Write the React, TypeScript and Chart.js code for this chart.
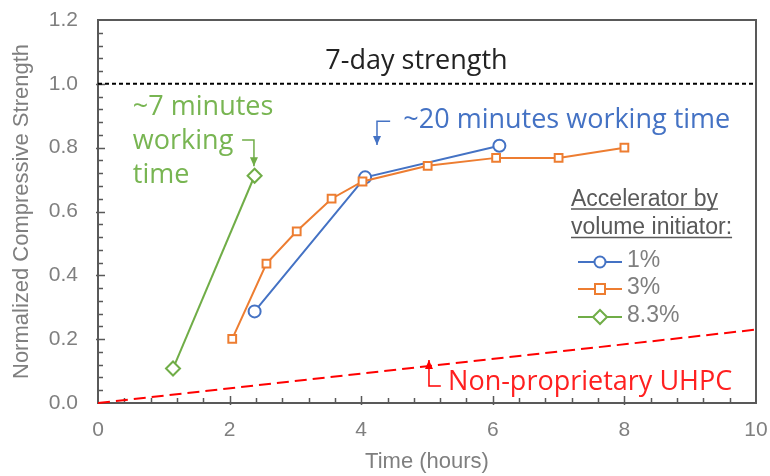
import React, { useEffect, useRef } from "react";
import { Chart, registerables } from "chart.js";

Chart.register(...registerables);

// ---- data ----
const seriesNames = ["1%", "3%", "8.3%"];
const time1 = [2.38, 4.06, 6.1];
const strength1 = [0.287, 0.707, 0.806];
const time3 = [2.04, 2.56, 3.02, 3.55, 4.02, 5.01, 6.05, 7.0, 8.0];
const strength3 = [0.201, 0.437, 0.538, 0.64, 0.694, 0.743, 0.768, 0.768, 0.8];
const time83 = [1.14, 2.38];
const strength83 = [0.108, 0.712];
const uhpcTime = [0, 10];
const uhpcStrength = [0, 0.23];
const sevenDayTime = [0, 10];
const sevenDayStrength = [1.0, 1.0];
const xTickValues = [0, 2, 4, 6, 8, 10];
const yTickValues = [0, 0.2, 0.4, 0.6, 0.8, 1.0, 1.2];
const xTitle = "Time (hours)";
const yTitle = "Normalized Compressive Strength";
const legendTitle = ["Accelerator by", "volume initiator:"];

const BLUE = "#4472C4";
const ORANGE = "#ED7D31";
const GREEN = "#70AD47";
const RED = "#FF0000";
const GRAY = "#7f7f7f";
const DARK = "#595959";

const pts = (xs: number[], ys: number[]) => xs.map((x, i) => ({ x, y: ys[i] }));

const framePlugin = {
  id: "frame",
  beforeDatasetsDraw(chart: any) {
    const ctx = chart.ctx;
    const xs = chart.scales.x;
    const ys = chart.scales.y;
    const ca = chart.chartArea;
    const px = (v: number) => xs.getPixelForValue(v);
    const py = (v: number) => ys.getPixelForValue(v);
    ctx.save();
    ctx.strokeStyle = DARK;
    ctx.lineWidth = 2;
    ctx.strokeRect(ca.left, ca.top, ca.right - ca.left, ca.bottom - ca.top);
    ctx.lineWidth = 1.5;
    ctx.beginPath();
    for (let i = 1; i < 25; i++) {
      const v = i * 0.4;
      const major = Math.abs(v / 2 - Math.round(v / 2)) < 1e-6;
      const x = Math.round(px(v)) + 0.5;
      ctx.moveTo(x, ca.bottom + (major ? 2 : 0));
      ctx.lineTo(x, ca.bottom - (major ? 7 : 5));
    }
    for (let i = 1; i < 30; i++) {
      const v = i * 0.04;
      const major = Math.abs(v / 0.2 - Math.round(v / 0.2)) < 1e-6;
      const y = Math.round(py(v)) + 0.5;
      ctx.moveTo(ca.left - (major ? 2 : 0), y);
      ctx.lineTo(ca.left + (major ? 7 : 5), y);
    }
    ctx.stroke();
    ctx.restore();
  },
};

const decorPlugin = {
  id: "decor",
  afterDraw(chart: any) {
    const ctx = chart.ctx;
    const xs = chart.scales.x;
    const ys = chart.scales.y;
    const ca = chart.chartArea;
    const px = (v: number) => xs.getPixelForValue(v);
    const py = (v: number) => ys.getPixelForValue(v);
    ctx.save();

    // axis titles
    ctx.fillStyle = GRAY;
    ctx.font = '22px "Liberation Sans", Arial, sans-serif';
    ctx.textAlign = "center";
    ctx.textBaseline = "middle";
    ctx.fillText(xTitle, (ca.left + ca.right) / 2, 462);
    ctx.save();
    ctx.translate(22, (ca.top + ca.bottom) / 2);
    ctx.rotate(-Math.PI / 2);
    ctx.fillText(yTitle, 0, 0);
    ctx.restore();

    // annotations
    ctx.font = '27px "Open Sans", sans-serif';
    ctx.textBaseline = "alphabetic";
    ctx.textAlign = "center";
    ctx.fillStyle = "#222222";
    ctx.fillText("7-day strength", px(4.84), py(1.046));

    ctx.textAlign = "left";
    ctx.fillStyle = "#78b552";
    ctx.fillText("~7 minutes", px(0.53), py(0.902));
    ctx.fillText("working", px(0.53), py(0.796));
    ctx.fillText("time", px(0.53), py(0.689));

    ctx.fillStyle = BLUE;
    ctx.fillText("~20 minutes working time", px(4.64), py(0.862));

    ctx.fillStyle = "#ff2020";
    ctx.fillText("Non-proprietary UHPC", px(5.32), py(0.041));

    const arrow = (pointsArr: number[][], color: string, dir: "down" | "up") => {
      ctx.strokeStyle = color;
      ctx.fillStyle = color;
      ctx.lineWidth = 1.5;
      ctx.beginPath();
      pointsArr.forEach((p, i) => {
        if (i === 0) ctx.moveTo(p[0], p[1]);
        else ctx.lineTo(p[0], p[1]);
      });
      ctx.stroke();
      const tip = pointsArr[pointsArr.length - 1];
      const s = dir === "down" ? -1 : 1;
      ctx.beginPath();
      ctx.moveTo(tip[0], tip[1]);
      ctx.lineTo(tip[0] - 4, tip[1] + s * 9);
      ctx.lineTo(tip[0] + 4, tip[1] + s * 9);
      ctx.closePath();
      ctx.fill();
    };
    arrow([[px(2.19), py(0.824)], [px(2.37), py(0.824)], [px(2.37), py(0.742)]], GREEN, "down");
    arrow([[px(4.44), py(0.883)], [px(4.24), py(0.883)], [px(4.24), py(0.808)]], BLUE, "down");
    arrow([[px(5.21), py(0.053)], [px(5.03), py(0.053)], [px(5.03), py(0.135)]], RED, "up");

    // legend
    ctx.font = '23px "Liberation Sans", Arial, sans-serif';
    ctx.fillStyle = DARK;
    ctx.textAlign = "left";
    ctx.textBaseline = "alphabetic";
    const lx = 571;
    ctx.fillText(legendTitle[0], lx, 206);
    ctx.fillText(legendTitle[1], lx, 234);
    ctx.strokeStyle = DARK;
    ctx.lineWidth = 1.5;
    const w0 = ctx.measureText(legendTitle[0]).width;
    const w1 = ctx.measureText(legendTitle[1]).width;
    ctx.beginPath();
    ctx.moveTo(lx, 209);
    ctx.lineTo(lx + w0, 209);
    ctx.moveTo(lx, 237.5);
    ctx.lineTo(lx + w1, 237.5);
    ctx.stroke();

    const rows = [262, 289, 317];
    const colors = [BLUE, ORANGE, GREEN];
    rows.forEach((y, i) => {
      ctx.strokeStyle = colors[i];
      ctx.lineWidth = 2;
      ctx.beginPath();
      ctx.moveTo(578, y);
      ctx.lineTo(622, y);
      ctx.stroke();
      ctx.fillStyle = "#ffffff";
      ctx.beginPath();
      if (i === 0) {
        ctx.arc(600, y, 5.5, 0, Math.PI * 2);
      } else if (i === 1) {
        ctx.rect(595, y - 5, 10, 10);
      } else {
        ctx.moveTo(600, y - 7);
        ctx.lineTo(607, y);
        ctx.lineTo(600, y + 7);
        ctx.lineTo(593, y);
        ctx.closePath();
      }
      ctx.fill();
      ctx.stroke();
      ctx.fillStyle = GRAY;
      ctx.textBaseline = "middle";
      ctx.fillText(seriesNames[i], 627, y - 1);
    });

    ctx.restore();
  },
};

const zeroPad = (s: any) => {
  s.paddingTop = 0;
  s.paddingBottom = 0;
  s.paddingLeft = 0;
  s.paddingRight = 0;
};

export default function App() {
  const ref = useRef<HTMLCanvasElement | null>(null);
  useEffect(() => {
    if (!ref.current) return;
    const chart = new Chart(ref.current, {
      type: "scatter",
      data: {
        datasets: [
          {
            label: "Non-proprietary UHPC",
            data: pts(uhpcTime, uhpcStrength),
            showLine: true,
            borderColor: RED,
            borderWidth: 2,
            borderDash: [12, 6],
            pointRadius: 0,
            clip: false,
          },
          {
            label: "7-day strength",
            data: pts(sevenDayTime, sevenDayStrength),
            showLine: true,
            borderColor: "#000000",
            borderWidth: 2,
            borderDash: [4, 3],
            pointRadius: 0,
          },
          {
            label: seriesNames[2],
            data: pts(time83, strength83),
            showLine: true,
            borderColor: GREEN,
            borderWidth: 2,
            pointStyle: "rectRot",
            pointRadius: 7,
            pointBorderWidth: 2,
            pointBackgroundColor: "#ffffff",
            pointBorderColor: GREEN,
          },
          {
            label: seriesNames[1],
            data: pts(time3, strength3),
            showLine: true,
            borderColor: ORANGE,
            borderWidth: 2,
            pointStyle: "rect",
            pointRadius: 5.5,
            pointBorderWidth: 2,
            pointBackgroundColor: "#ffffff",
            pointBorderColor: ORANGE,
          },
          {
            label: seriesNames[0],
            data: pts(time1, strength1),
            showLine: true,
            borderColor: BLUE,
            borderWidth: 2,
            pointStyle: "circle",
            pointRadius: 6,
            pointBorderWidth: 2,
            pointBackgroundColor: "#ffffff",
            pointBorderColor: BLUE,
          },
        ],
      },
      options: {
        animation: false,
        responsive: false,
        layout: { padding: { top: 20, right: 14, left: 0, bottom: 0 } },
        plugins: { legend: { display: false }, tooltip: { enabled: false } },
        scales: {
          x: {
            type: "linear",
            min: 0,
            max: 10,
            afterFit: (s: any) => {
              s.height = 73;
              zeroPad(s);
            },
            afterBuildTicks: (s: any) => {
              s.ticks = xTickValues.map((v) => ({ value: v }));
            },
            grid: { display: false, drawTicks: false },
            border: { display: false },
            ticks: {
              color: GRAY,
              font: { family: '"Liberation Sans", Arial, sans-serif', size: 21 },
              padding: 15,
              callback: (v: any) => String(v),
            },
          },
          y: {
            type: "linear",
            min: 0,
            max: 1.2,
            afterFit: (s: any) => {
              s.width = 98;
              zeroPad(s);
            },
            afterBuildTicks: (s: any) => {
              s.ticks = yTickValues.map((v) => ({ value: v }));
            },
            grid: { display: false, drawTicks: false },
            border: { display: false },
            ticks: {
              color: GRAY,
              font: { family: '"Liberation Sans", Arial, sans-serif', size: 21 },
              padding: 20,
              callback: (v: any) => Number(v).toFixed(1),
            },
          },
        },
      },
      plugins: [framePlugin, decorPlugin],
    });
    return () => chart.destroy();
  }, []);
  return (
    <div style={{ position: "absolute", left: 0, top: 0, width: 770, height: 476, background: "#fff" }}>
      <canvas ref={ref} width={770} height={476} />
    </div>
  );
}
